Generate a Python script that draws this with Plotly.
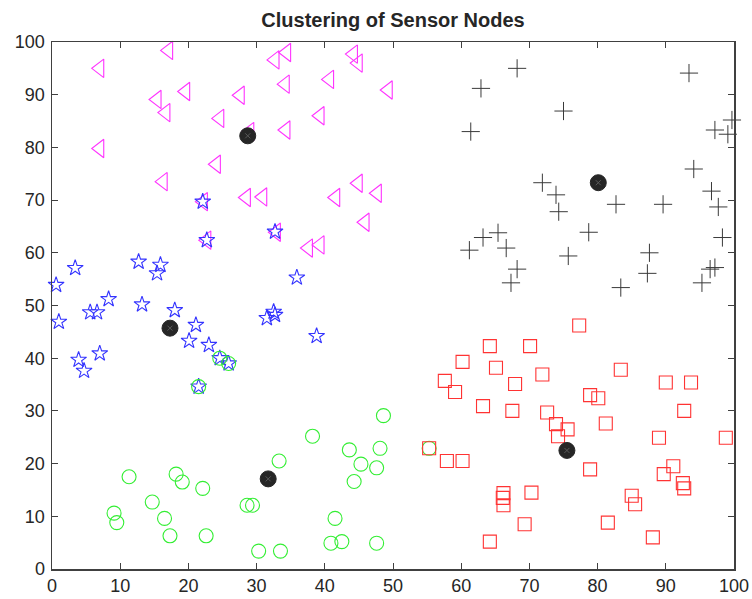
import plotly.graph_objects as go

# Cluster 1 (magenta triangles)
c1_x = [7.0, 17.1, 15.4, 19.6, 16.7, 24.6, 27.6, 7.0, 29.0, 24.1, 16.3, 28.5, 30.9, 22.2, 32.7,
        34.4, 44.2, 44.9, 34.2, 40.7, 49.3, 39.3, 34.3, 44.9, 41.6, 47.7, 45.9, 32.9, 37.6, 39.3, 22.7]
c1_y = [95.0, 98.4, 89.1, 90.6, 86.6, 85.5, 89.9, 79.8, 83.0, 76.8, 73.5, 70.5, 70.6, 69.7, 96.6,
        98.0, 97.7, 96.0, 92.0, 92.9, 90.9, 86.0, 83.3, 73.2, 70.5, 71.3, 65.8, 63.9, 60.9, 61.5, 62.4]

# Cluster 2 (black plus)
c2_x = [68.2, 93.4, 75.0, 99.7, 97.2, 99.1, 94.1, 71.9, 73.9, 74.3, 82.7, 89.6, 96.7, 97.7, 62.9, 61.4,
        61.2, 63.2, 65.4, 66.6, 78.7, 75.7, 68.2, 67.3, 87.6, 87.3, 83.4, 98.3, 96.5, 97.2, 95.3]
c2_y = [95.0, 94.1, 86.9, 85.2, 83.3, 82.5, 75.9, 73.3, 71.0, 67.8, 69.2, 69.2, 71.7, 68.7, 91.2, 83.0,
        60.5, 62.9, 63.8, 60.9, 63.9, 59.4, 56.9, 54.3, 60.0, 56.1, 53.4, 62.9, 56.9, 57.2, 54.3]

# Cluster 3 (blue stars)
c3_x = [3.4, 0.6, 1.0, 12.7, 15.9, 15.4, 8.3, 5.6, 6.6, 13.2, 18.0, 21.1, 20.1, 23.0, 3.9, 4.7, 7.0,
        24.6, 25.9, 21.5, 22.7, 22.1, 32.7, 31.5, 32.5, 32.7, 35.9, 38.8]
c3_y = [57.1, 53.9, 46.9, 58.3, 57.7, 56.1, 51.2, 48.7, 48.7, 50.2, 49.1, 46.3, 43.3, 42.5, 39.7, 37.6, 40.9,
        40.0, 39.0, 34.6, 62.4, 69.7, 64.0, 47.6, 48.8, 48.2, 55.3, 44.2]

# Cluster 4 (green circles)
c4_x = [11.3, 18.2, 19.1, 22.1, 14.7, 9.1, 9.5, 16.5, 17.3, 22.6, 28.6, 29.4, 30.3, 33.5, 33.3,
        38.2, 48.6, 43.6, 48.1, 45.3, 47.6, 44.3, 41.5, 40.9, 42.5, 47.6, 55.3, 24.6, 25.9, 21.5]
c4_y = [17.5, 18.0, 16.5, 15.3, 12.7, 10.6, 8.8, 9.6, 6.3, 6.3, 12.1, 12.1, 3.4, 3.4, 20.5,
        25.2, 29.1, 22.6, 22.9, 19.9, 19.2, 16.6, 9.6, 4.9, 5.2, 4.9, 22.9, 40.0, 39.0, 34.6]

# Cluster 5 (red squares)
c5_x = [59.1, 63.2, 57.9, 60.2, 55.3, 66.2, 66.1, 66.2, 64.2, 64.2, 60.2, 65.1, 57.6, 77.3, 70.1, 71.9,
        67.9, 83.4, 90.0, 93.7, 78.9, 80.1, 67.5, 72.6, 73.9, 75.6, 74.2, 81.2, 92.7, 89.0, 98.8, 78.9,
        91.1, 89.7, 92.5, 92.7, 85.0, 85.5, 70.3, 69.3, 81.5, 88.1]
c5_y = [33.6, 30.9, 20.5, 20.5, 22.9, 14.4, 13.5, 12.1, 5.2, 42.3, 39.3, 38.2, 35.7, 46.2, 42.3, 36.9,
        35.1, 37.8, 35.4, 35.4, 33.0, 32.4, 30.0, 29.7, 27.5, 26.5, 25.2, 27.6, 30.0, 24.9, 24.9, 18.9,
        19.5, 18.0, 16.3, 15.3, 13.9, 12.3, 14.5, 8.5, 8.8, 6.0]

# Cluster heads (centroids)
head_x = [28.7, 80.1, 17.3, 31.7, 75.5]
head_y = [82.2, 73.3, 45.7, 17.1, 22.5]

x_ticks = list(range(0, 101, 10))
y_ticks = list(range(0, 101, 10))

fig = go.Figure()

def add(x, y, symbol, color, size, width=1.1):
    fig.add_trace(go.Scatter(x=x, y=y, mode="markers",
                             marker=dict(symbol=symbol, size=size, color=color,
                                         line=dict(color=color, width=width)),
                             showlegend=False, hoverinfo="skip", cliponaxis=False))

add(c1_x, c1_y, "triangle-left-open", "#FF33FF", 16)
add(c2_x, c2_y, "cross-thin-open", "#3a3a3a", 13, 1.0)
add(c3_x, c3_y, "star-open", "#3333FF", 12)
add(c4_x, c4_y, "circle-open", "#33EE33", 14)
add(c5_x, c5_y, "square-open", "#FF3333", 13)

fig.add_trace(go.Scatter(x=head_x, y=head_y, mode="markers",
                         marker=dict(symbol="circle", size=16, color="#262626",
                                     line=dict(color="#262626", width=1)),
                         showlegend=False, hoverinfo="skip"))
fig.add_trace(go.Scatter(x=head_x, y=head_y, mode="markers",
                         marker=dict(symbol="x-thin-open", size=5, color="#5a5a5a",
                                     line=dict(color="#5a5a5a", width=1)),
                         showlegend=False, hoverinfo="skip"))

axis_common = dict(range=[0, 100], showgrid=False, zeroline=False, showline=True,
                   linecolor="#404040", linewidth=1.5, mirror="ticks", ticks="inside",
                   ticklen=6, tickcolor="#404040", tickwidth=1, automargin=False,
                   tickfont=dict(family="Liberation Sans, Arial, sans-serif", size=18, color="#262626"))

fig.update_layout(
    width=752, height=599,
    margin=dict(l=52, r=18, t=42, b=30),
    paper_bgcolor="white", plot_bgcolor="white",
    hovermode=False,
    title=dict(text="<b>Clustering of Sensor Nodes</b>", x=(52 + 734) / 2 / 752, xanchor="center",
               y=1 - 20 / 599, yanchor="middle",
               font=dict(family="Liberation Sans, Arial, sans-serif", size=20, color="#262626")),
    xaxis=dict(tickvals=x_ticks, **axis_common),
    yaxis=dict(tickvals=y_ticks, ticklabelstandoff=2, **axis_common),
)

fig.write_html("out.html", config={"displayModeBar": False, "staticPlot": True},
               post_script="document.body.style.margin='0';document.body.style.overflow='hidden';")
